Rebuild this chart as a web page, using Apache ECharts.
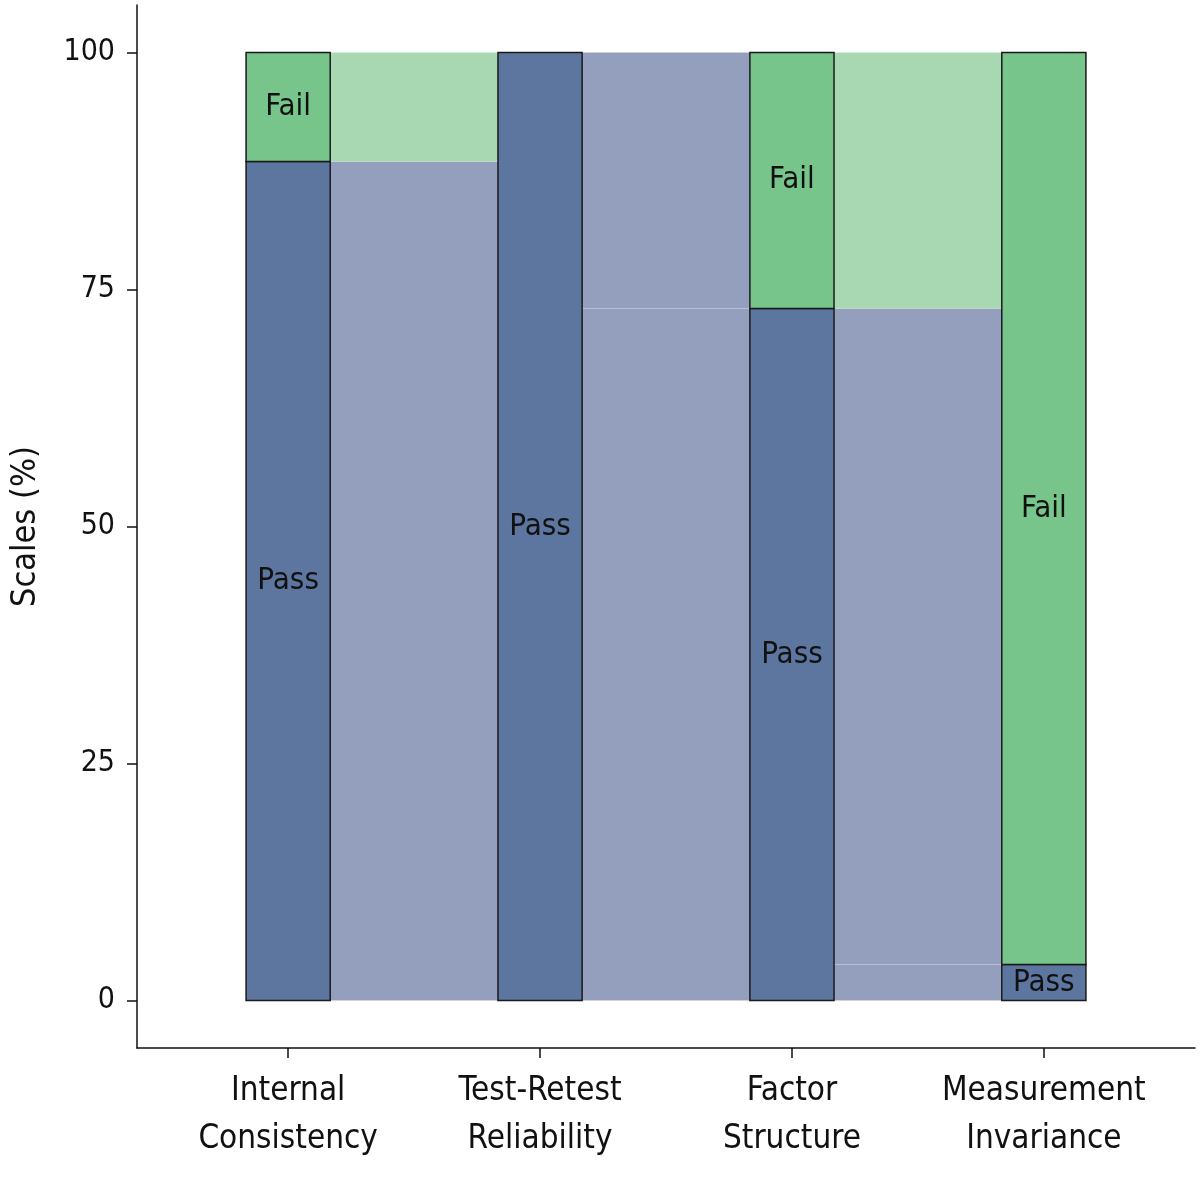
<!DOCTYPE html>
<html>
<head>
<meta charset="utf-8">
<script src="https://cdn.jsdelivr.net/npm/echarts@6/dist/echarts.min.js"></script>
<style>
html,body{margin:0;padding:0;background:#fff;}
#chart{width:1200px;height:1179px;}
</style>
</head>
<body>
<div id="chart"></div>
<script>
// ---- data ----
const categories = ['Internal\nConsistency', 'Test-Retest\nReliability', 'Factor\nStructure', 'Measurement\nInvariance'];
const passPct = [88.5, 100, 73, 3.8];
const failPct = [11.5, 0, 27, 96.2];
const yTicks = [0, 25, 50, 75, 100];
// flows between consecutive criteria: [fromIndex, bottom, top, status at origin]
const flows = [
  [0, 0, 88.5, 'Pass'],
  [0, 88.5, 100, 'Fail'],
  [1, 0, 73, 'Pass'],
  [1, 73, 100, 'Pass'],
  [2, 0, 3.8, 'Pass'],
  [2, 3.8, 73, 'Pass'],
  [2, 73, 100, 'Fail']
];

const FONT = '"Liberation Sans Narrow", "DejaVu Sans Condensed", "Liberation Sans", sans-serif';
const BAR_HALF = 0.167;
const COLORS = {
  barPass: '#5d76a0', barFail: '#77c58b',
  flowPass: '#949fbd', flowFail: '#a8d8b2'
};

// bar segments: [xCenter, bottom, top, status]
const barData = [];
categories.forEach((c, i) => {
  if (passPct[i] > 0) barData.push([i + 1, 0, passPct[i], 'Pass']);
  if (failPct[i] > 0) barData.push([i + 1, passPct[i], passPct[i] + failPct[i], 'Fail']);
});
const flowData = flows.map(f => [f[0] + 1, f[1], f[2], f[3]]);

const chart = echarts.init(document.getElementById('chart'));
chart.setOption({
  animation: false,
  grid: { left: 137, right: 5, top: 5, bottom: 131, containLabel: false, outerBoundsMode: 'none' },
  xAxis: {
    type: 'value', min: 0.4, max: 4.6,
    splitLine: { show: false },
    axisLine: { show: true, onZero: false, lineStyle: { color: '#111', width: 1.5 } },
    axisTick: { show: true, customValues: [1, 2, 3, 4], length: 10, lineStyle: { color: '#111', width: 1.5 } },
    axisLabel: {
      customValues: [1, 2, 3, 4],
      formatter: v => categories[Math.round(v) - 1] || '',
      fontFamily: FONT, fontSize: 33, color: '#111', lineHeight: 48, margin: 19
    }
  },
  yAxis: {
    type: 'value', min: -5, max: 105,
    name: 'Scales (%)', nameLocation: 'middle', nameRotate: 90, nameGap: 94,
    nameTextStyle: { fontFamily: FONT, fontSize: 34, color: '#111' },
    splitLine: { show: false },
    axisLine: { show: true, onZero: false, lineStyle: { color: '#111', width: 1.5 } },
    axisTick: { show: true, customValues: yTicks, length: 10, lineStyle: { color: '#111', width: 1.5 } },
    axisLabel: { customValues: yTicks, fontFamily: FONT, fontSize: 30, color: '#111', margin: 22 }
  },
  series: [
    {
      type: 'custom',
      data: flowData,
      encode: { x: 0, y: [1, 2] },
      renderItem: (params, api) => {
        const i = api.value(0);
        const p0 = api.coord([i + BAR_HALF, api.value(2)]);
        const p1 = api.coord([i + 1 - BAR_HALF, api.value(1)]);
        const st = flowData[params.dataIndex][3];
        return {
          type: 'rect',
          shape: { x: p0[0], y: p0[1], width: p1[0] - p0[0], height: p1[1] - p0[1] },
          style: { fill: st === 'Pass' ? COLORS.flowPass : COLORS.flowFail, stroke: 'rgba(255,255,255,0.1)', lineWidth: 1 }
        };
      }
    },
    {
      type: 'custom',
      data: barData,
      encode: { x: 0, y: [1, 2] },
      renderItem: (params, api) => {
        const i = api.value(0);
        const p0 = api.coord([i - BAR_HALF, api.value(2)]);
        const p1 = api.coord([i + BAR_HALF, api.value(1)]);
        const st = barData[params.dataIndex][3];
        return {
          type: 'group',
          children: [
            {
              type: 'rect',
              shape: { x: p0[0], y: p0[1], width: p1[0] - p0[0], height: p1[1] - p0[1] },
              style: { fill: st === 'Pass' ? COLORS.barPass : COLORS.barFail, stroke: '#1a1a1a', lineWidth: 1.5 }
            },
            {
              type: 'text',
              style: {
                text: st, x: (p0[0] + p1[0]) / 2, y: (p0[1] + p1[1]) / 2,
                align: 'center', verticalAlign: 'middle',
                fontFamily: FONT, fontSize: 31, fill: '#111'
              }
            }
          ]
        };
      }
    }
  ]
});
</script>
</body>
</html>
